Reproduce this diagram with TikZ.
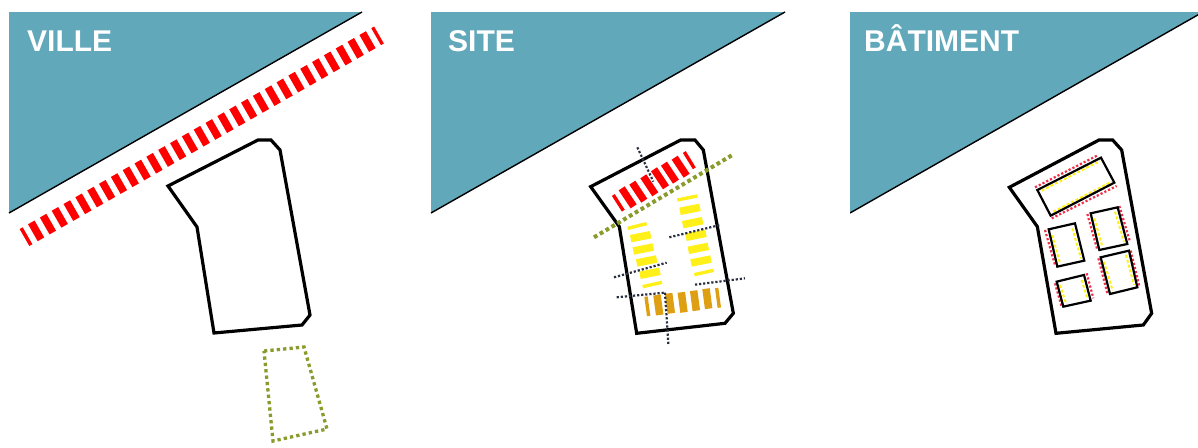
\documentclass[tikz,border=0pt]{standalone}
\usepackage{fontspec}
\setmainfont{Liberation Sans}
\definecolor{water}{HTML}{62A8BB}
\definecolor{oliveg}{HTML}{8A9A2B}
\definecolor{ochre}{HTML}{DE9F12}
\definecolor{yel}{HTML}{FFF019}
\definecolor{dotk}{HTML}{2A3040}
\definecolor{pinkred}{HTML}{F0304A}
\tikzset{
  sitepoly/.style={draw=black,line width=3.2pt,line join=miter},
  waterpoly/.style={fill=water,draw=none},
  shore/.style={draw=black,line width=1.4pt},
  redband/.style={draw=red,line width=19.5pt,dash pattern=on 7.5pt off 6.13pt},
  olivedots/.style={draw=oliveg,line width=3.3pt,dash pattern=on 3.3pt off 3.1pt},
  greenline/.style={draw=oliveg,line width=4pt,dash pattern=on 3.8pt off 3pt},
  blackdots/.style={draw=dotk,line width=2.2pt,dash pattern=on 2.2pt off 1.9pt},
  ybar/.style={draw=yel,line width=7.5pt},
  ybart/.style={draw=yel,line width=3.4pt},
  obar/.style={draw=ochre,line width=7.5pt},
  obart/.style={draw=ochre,line width=3.4pt},
  rbar/.style={draw=red,line width=7.2pt},
  rbart/.style={draw=red,line width=3.4pt},
  title/.style={text=white,font=\fontsize{30}{32}\selectfont\bfseries,anchor=base west,inner sep=0pt},
  bldg/.style={draw=black,line width=2.2pt},
  pinkdots/.style={draw=pinkred,line width=2.2pt,dash pattern=on 2.2pt off 2pt},
  yeldots/.style={draw=yel,line width=2pt,dash pattern=on 3pt off 2pt},
}
\begin{document}
\begin{tikzpicture}[x=1pt,y=-1pt]
\useasboundingbox (0,0) rectangle (1198,447);
% panel 1
\fill[waterpoly] (9,12) -- (362,12) -- (9,213) -- cycle;
\draw[shore] (9,213) -- (362,12);
\draw[redband,dash phase=4pt] (24.5,237.5) -- (379,35);
\draw[sitepoly] (168,186) -- (258,140) -- (271,140) -- (280,150) -- (310,315) -- (302,325) -- (214,333) -- (197,227) -- cycle;
\draw[olivedots] (264,351) -- (304,347) -- (327,429) -- (273,441) -- cycle;
\node[title] (ville) at (27,51) {VILLE};
% panel 2
\fill[waterpoly] (431,12) -- (785,12) -- (431,213) -- cycle;
\draw[shore] (431,213) -- (785,12);
\begin{scope}[shift={(570,130)},x=0.3333pt,y=-0.3333pt]
\foreach \x/\y in {173/202,205/185,238/166,270/145,300/128,332/110}{
  \draw[rbar] (\x-18,\y-27) -- (\x+18,\y+27);
}
\draw[rbart] (130,195) -- (160,242);
\draw[rbart] (343,66) -- (373,115);
\draw[ybart] (173,295) -- (230,281);
\foreach \x/\y in {212/320,220/357,230/393,240/430}{\draw[ybar] (\x-30,\y+6) -- (\x+30,\y-6);}
\draw[ybart] (218,470) -- (276,457);
\draw[ybart] (322,210) -- (382,198);
\foreach \x/\y in {360/238,368/278,378/316,385/355,393/393}{\draw[ybar] (\x-30,\y+6) -- (\x+30,\y-6);}
\draw[ybart] (373,434) -- (431,421);
\draw[obart] (228,500) -- (236,558);
\foreach \x/\y in {265/525,300/520,338/517,375/512,412/506}{\draw[obar] (\x-4,\y-30) -- (\x+4,\y+30);}
\draw[obart] (440,474) -- (448,533);
\draw[sitepoly] (62,170) -- (332,30) -- (375,30) -- (400,60) -- (490,550) -- (465,580) -- (200,610) -- (148,290) -- cycle;
\draw[greenline] (72,322) -- (492,72);
\draw[blackdots] (202,52) -- (250,155);
\draw[blackdots] (298,322) -- (450,285);
\draw[blackdots] (132,442) -- (290,398);
\draw[blackdots] (140,502) -- (285,488);
\draw[blackdots] (375,464) -- (525,445);
\draw[blackdots] (285,488) -- (295,642);
\end{scope}
\node[title] (site) at (448,51) {SITE};
% panel 3
\begin{scope}
\clip (850,0) rectangle (1198,447);
\fill[waterpoly] (850,12) -- (1203,12) -- (850,213) -- cycle;
\draw[shore] (850,213) -- (1203,12);
\end{scope}
\begin{scope}[shift={(1000,130)},x=0.3333pt,y=-0.3333pt]
\draw[sitepoly] (28,172) -- (297,30) -- (338,30) -- (365,60) -- (455,550) -- (430,585) -- (168,610) -- (112,290) -- cycle;
% red dots
\draw[pinkdots] (105,172) -- (295,75);
\draw[pinkdots] (155,265) -- (350,168);
\draw[pinkdots] (135,300) -- (165,405);
\draw[pinkdots] (262,252) -- (292,360);
\draw[pinkdots] (358,228) -- (390,335);
\draw[pinkdots] (165,460) -- (185,530);
\draw[pinkdots] (260,430) -- (280,505);
\draw[pinkdots] (295,385) -- (322,490);
\draw[pinkdots] (392,362) -- (418,468);
% yellow dots
\draw[yeldots] (125,182) -- (300,93);
\draw[yeldots] (160,245) -- (335,155);
\draw[yeldots] (157,315) -- (180,400);
\draw[yeldots] (217,295) -- (243,385);
\draw[yeldots] (283,265) -- (307,350);
\draw[yeldots] (345,245) -- (372,335);
\draw[yeldots] (180,465) -- (198,520);
\draw[yeldots] (245,450) -- (262,505);
\draw[yeldots] (312,395) -- (338,482);
\draw[yeldots] (378,375) -- (402,465);
% buildings
\draw[bldg] (112,180) -- (303,83) -- (343,158) -- (152,257) -- cycle;
\draw[bldg] (146,298) -- (225,280) -- (253,392) -- (172,410) -- cycle;
\draw[bldg] (272,250) -- (353,232) -- (382,342) -- (298,360) -- cycle;
\draw[bldg] (170,455) -- (252,435) -- (272,512) -- (190,530) -- cycle;
\draw[bldg] (302,382) -- (387,362) -- (412,472) -- (330,492) -- cycle;
\end{scope}
\node[title] (bat) at (864,51) {BÂTIMENT};
\end{tikzpicture}
\end{document}
